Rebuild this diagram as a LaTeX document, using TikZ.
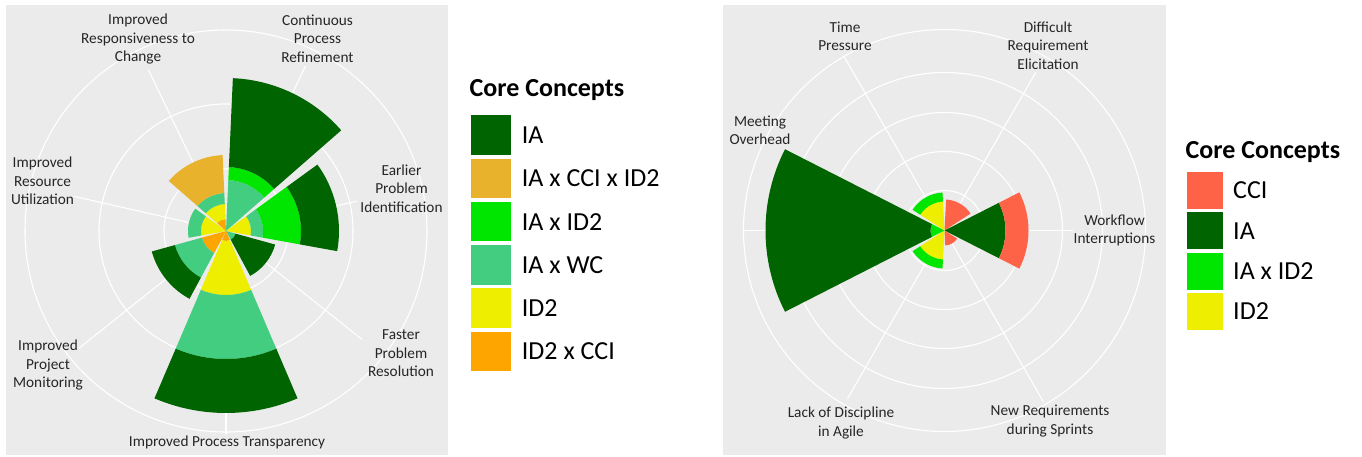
\documentclass[tikz,border=0pt]{standalone}
\usepackage{fontspec}
\setmainfont{Carlito}
\definecolor{panelgrey}{HTML}{EBEBEB}
\definecolor{cIA}{HTML}{006400}
\definecolor{cIACCIID}{HTML}{E9B22D}
\definecolor{cIAID}{HTML}{00E600}
\definecolor{cIAWC}{HTML}{43CD80}
\definecolor{cID}{HTML}{EEEE00}
\definecolor{cIDCCI}{HTML}{FFA500}
\definecolor{cCCI}{HTML}{FF6347}
% one stacked slice of a polar bar: angle (clockwise from top), half width, inner r, outer r, colour
\newcommand\petal[5]{%
  \pgfmathsetmacro\pa{90-(#1)-(#2)}%
  \pgfmathsetmacro\pb{90-(#1)+(#2)}%
  \fill[#5] (\pa:#3pt) arc[start angle=\pa, end angle=\pb, radius=#3pt]
    -- (\pb:#4pt) arc[start angle=\pb, end angle=\pa, radius=#4pt] -- cycle;}
\tikzset{
  grid/.style={draw=white, line width=1.1pt},
  panel/.style={fill=panelgrey},
  axislabel/.style={font=\fontsize{15.3}{18.5}\selectfont, align=center, inner sep=0pt, text=black!85},
  legtitle/.style={font=\fontsize{26}{30}\selectfont\bfseries, inner sep=0pt},
  legtext/.style={font=\fontsize{26}{30}\selectfont, inner sep=0pt},
  key/.style={inner sep=0pt, draw=none}
}
\begin{document}
\begin{tikzpicture}[x=1pt, y=1pt]
\useasboundingbox (0,0) rectangle (1362,457);
\fill[white] (0,0) rectangle (1362,457);

% ---------- left chart: benefits ----------
\fill[panel] (5.5,2) rectangle (448,452);
\coordinate (lc) at (226,226);
\foreach \r in {62,127,201} \draw[grid] (lc) circle[radius=\r pt];
\foreach \t/\len in {25.714/183, 77.143/134, 128.571/174, 180/203, 231.429/188, 282.857/156, 334.286/179}
  \draw[grid] (lc) -- ++({90-\t}:\len pt);

\begin{scope}[shift={(lc)}]
  \def\hw{23.14}
  % Continuous Process Refinement
  \petal{25.714}{\hw}{0.01}{51}{cIAWC}
  \petal{25.714}{\hw}{51}{64}{cIAID}
  \petal{25.714}{\hw}{64}{153}{cIA}
  % Earlier Problem Identification
  \petal{77.143}{\hw}{0.01}{25}{cID}
  \petal{77.143}{\hw}{25}{37}{cIAWC}
  \petal{77.143}{\hw}{37}{75}{cIAID}
  \petal{77.143}{\hw}{75}{113}{cIA}
  % Faster Problem Resolution
  \petal{128.571}{\hw}{0.01}{10}{cIAWC}
  \petal{128.571}{\hw}{10}{51}{cIA}
  % Improved Process Transparency
  \petal{180}{\hw}{0.01}{10}{cIDCCI}
  \petal{180}{\hw}{10}{64}{cID}
  \petal{180}{\hw}{64}{128}{cIAWC}
  \petal{180}{\hw}{128}{182}{cIA}
  % Improved Project Monitoring
  \petal{231.429}{\hw}{0.01}{25}{cIDCCI}
  \petal{231.429}{\hw}{25}{53}{cIAWC}
  \petal{231.429}{\hw}{53}{77}{cIA}
  % Improved Resource Utilization
  \petal{282.857}{\hw}{0.01}{25}{cID}
  \petal{282.857}{\hw}{25}{38}{cIAWC}
  % Improved Responsiveness to Change
  \petal{334.286}{\hw}{0.01}{12}{cIDCCI}
  \petal{334.286}{\hw}{12}{27}{cID}
  \petal{334.286}{\hw}{27}{38}{cIAWC}
  \petal{334.286}{\hw}{38}{76}{cIACCIID}
\end{scope}

\node[axislabel] (l1) at (317.5,418.5) {Continuous\\Process\\Refinement};
\node[axislabel] (l2) at (401.5,268.5) {Earlier\\Problem\\Identification};
\node[axislabel] (l3) at (401,103.5) {Faster\\Problem\\Resolution};
\node[axislabel] (l4) at (227,15) {Improved Process Transparency};
\node[axislabel] (l5) at (48,91.5) {Improved\\Project\\Monitoring};
\node[axislabel] (l6) at (42.5,276) {Improved\\Resource\\Utilization};
\node[axislabel] (l7) at (138,417.5) {Improved\\Responsiveness to\\Change};

% left legend
\node[legtitle, anchor=base west] (lt) at (469.5,360) {Core Concepts};
\foreach \c/\t [count=\i] in {cIA/IA, cIACCIID/IA x CCI x ID2, cIAID/IA x ID2, cIAWC/IA x WC, cID/ID2, cIDCCI/ID2 x CCI} {
  \pgfmathsetmacro\yy{457-(135.2+43.25*(\i-1))}
  \node[key, fill=\c, minimum width=40pt, minimum height=39.5pt] (lk\i) at (490.7,\yy) {};
  \node[legtext, anchor=base west] (ll\i) at (521.7,\yy-8.4) {\t};
}

% ---------- right chart: challenges ----------
\fill[panel] (723,2) rectangle (1166,452);
\coordinate (rc) at (944.5,226.5);
\foreach \r in {40,79,118,158,201} \draw[grid] (rc) circle[radius=\r pt];
\foreach \t/\len in {30/183, 90/128, 150/198, 210/194, 270/201, 330/201}
  \draw[grid] (rc) -- ++({90-\t}:\len pt);

\begin{scope}[shift={(rc)}]
  \def\hw{27}
  % Difficult Requirement Elicitation
  \petal{30}{\hw}{0.01}{31}{cCCI}
  % Workflow Interruptions
  \petal{90}{\hw}{0.01}{61}{cIA}
  \petal{90}{\hw}{61}{84}{cCCI}
  % New Requirements during Sprints
  \petal{150}{\hw}{0.01}{15}{cCCI}
  % Lack of Discipline in Agile
  \petal{210}{\hw}{0.01}{29}{cID}
  \petal{210}{\hw}{29}{38}{cIAID}
  % Meeting Overhead
  \petal{270}{\hw}{0.01}{14}{cIAID}
  \petal{270}{\hw}{14}{179}{cIA}
  % Time Pressure
  \petal{330}{\hw}{0.01}{29}{cID}
  \petal{330}{\hw}{29}{38}{cIAID}
\end{scope}

\node[axislabel] (r1) at (1048,411.5) {Difficult\\Requirement\\Elicitation};
\node[axislabel] (r2) at (1114.5,226.5) {Workflow\\Interruptions};
\node[axislabel] (r3) at (1050,36) {New Requirements\\during Sprints};
\node[axislabel] (r4) at (841,34) {Lack of Discipline\\in Agile};
\node[axislabel] (r5) at (760,326.5) {Meeting\\Overhead};
\node[axislabel] (r6) at (845,420.5) {Time\\Pressure};

% right legend
\node[legtitle, anchor=base west] (rt) at (1185.5,298) {Core Concepts};
\foreach \c/\t [count=\i] in {cCCI/CCI, cIA/IA, cIAID/IA x ID2, cID/ID2} {
  \pgfmathsetmacro\yy{457-(190.5+40.3*(\i-1))}
  \node[key, fill=\c, minimum width=36pt, minimum height=37pt] (rk\i) at (1205,\yy) {};
  \node[legtext, anchor=base west] (rl\i) at (1233,\yy-8.4) {\t};
}
\end{tikzpicture}
\end{document}
